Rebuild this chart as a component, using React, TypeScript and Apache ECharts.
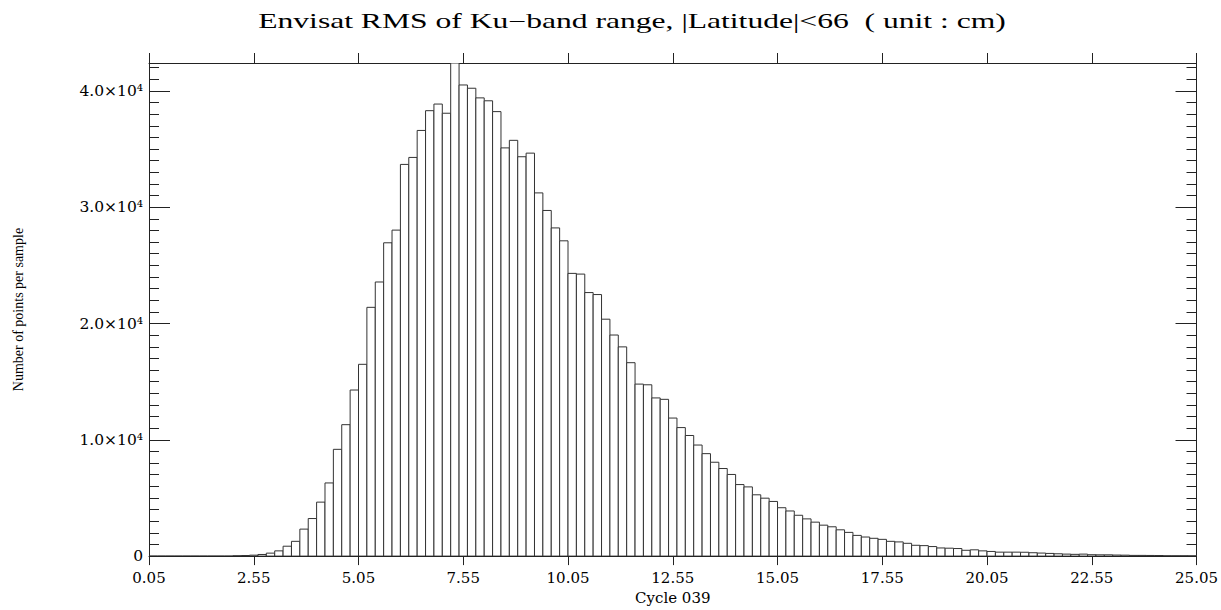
import React, { useEffect, useRef } from "react";
import * as echarts from "echarts";

// ---- data ----
const TITLE = "Envisat RMS of Ku\u2212band range, |Latitude|<66  ( unit : cm)";
const X_NAME = "Cycle 039";
const Y_NAME = "Number of points per sample";

const X_MIN = 0.05;
const X_MAX = 25.05;
const X_TICK_STEP = 2.5;
const BIN_WIDTH = 0.2;
const Y_MAX = 42400;

// counts per 0.2 cm bin, starting at 0.05
const counts: number[] = [
  0, 0, 0, 0, 0, 0, 0, 0, 0, 0,
  30, 50, 80, 140, 255, 450, 850, 1270, 2320, 3230,
  4640, 6290, 9180, 11300, 14280, 16490, 21390, 23570, 26940, 28030,
  33680, 34280, 36600, 38300, 38870, 38080, 42400, 40510, 40230, 39400,
  39150, 38220, 35100, 35750, 34340, 34650, 31230, 29720, 28220, 27110,
  24310, 24250, 22660, 22490, 20370, 19010, 17990, 16630, 14790, 14730,
  13600, 13480, 11870, 11050, 10370, 9550, 8810, 8070, 7530, 7020,
  6150, 5950, 5270, 4980, 4700, 4160, 3880, 3510, 3200, 2920,
  2660, 2520, 2260, 2040, 1780, 1640, 1530, 1440, 1270, 1220,
  1100, 930, 900, 820, 700, 680, 650, 500, 540, 450,
  400, 340, 340, 340, 330, 290, 260, 230, 200, 170,
  150, 170, 120, 110, 110, 90, 80, 60, 60, 55,
  50, 30, 30, 30, 25,
];

const binStarts: number[] = counts.map((_, i) => +(X_MIN + BIN_WIDTH * i).toFixed(2));

export default function App() {
  const ref = useRef<HTMLDivElement>(null);

  useEffect(() => {
    if (!ref.current) return;
    const chart = echarts.init(ref.current, undefined, { renderer: "svg" });
    const axisColor = "#222";
    const tickFont = "DejaVu Serif";

    const xBase = {
      type: "value",
      min: X_MIN,
      max: X_MAX,
      interval: X_TICK_STEP,
      axisLine: { show: true, onZero: false, lineStyle: { color: axisColor, width: 1 } },
      splitLine: { show: false },
    };
    const yBase = {
      type: "value",
      min: 0,
      max: Y_MAX,
      splitLine: { show: false },
    };

    chart.setOption({
      animation: false,
      backgroundColor: "#fff",
      grid: { left: 149, right: 24, top: 63, bottom: 48 },
      graphic: [
        {
          type: "text",
          x: 632,
          y: 21,
          scaleX: 1.58,
          style: {
            text: TITLE,
            fontFamily: "Liberation Serif",
            fontSize: 20,
            fill: "#000",
            align: "center",
            verticalAlign: "middle",
            textAlign: "center",
            textVerticalAlign: "middle",
          },
        },
      ],
      xAxis: [
        {
          ...xBase,
          position: "bottom",
          name: X_NAME,
          nameLocation: "middle",
          nameGap: 31,
          nameTextStyle: { fontFamily: tickFont, fontSize: 15, color: "#000" },
          axisTick: { show: true, inside: false, length: 9, lineStyle: { color: axisColor } },
          axisLabel: {
            show: true,
            margin: 14,
            fontFamily: tickFont,
            fontSize: 15,
            color: "#000",
            formatter: (v: number) => v.toFixed(2),
          },
        },
        {
          ...xBase,
          position: "top",
          axisTick: { show: true, inside: false, length: 10, lineStyle: { color: axisColor } },
          axisLabel: { show: false },
        },
      ],
      yAxis: [
        {
          ...yBase,
          position: "left",
          interval: 10000,
          name: Y_NAME,
          nameLocation: "middle",
          nameGap: 124,
          nameTextStyle: { fontFamily: "Liberation Serif", fontSize: 14, color: "#000" },
          axisLine: { show: true, lineStyle: { color: axisColor, width: 1 } },
          axisTick: { show: true, inside: true, length: 21, lineStyle: { color: axisColor } },
          axisLabel: {
            show: true,
            margin: 6,
            showMaxLabel: false,
            fontFamily: tickFont,
            fontSize: 15.5,
            color: "#000",
            padding: [0, 0, 4, 0],
            formatter: (v: number) => (v === 0 ? "0" : (v / 10000).toFixed(1) + "\u00d710\u2074"),
          },
        },
        {
          ...yBase,
          position: "right",
          interval: 10000,
          axisLine: { show: true, lineStyle: { color: axisColor, width: 1 } },
          axisTick: { show: true, inside: true, length: 21, lineStyle: { color: axisColor } },
          axisLabel: { show: false },
        },
        {
          ...yBase,
          position: "left",
          interval: 1000,
          axisLine: { show: false },
          axisTick: { show: true, inside: true, length: 10, lineStyle: { color: axisColor } },
          axisLabel: { show: false },
        },
        {
          ...yBase,
          position: "right",
          interval: 1000,
          axisLine: { show: false },
          axisTick: { show: true, inside: true, length: 10, lineStyle: { color: axisColor } },
          axisLabel: { show: false },
        },
      ],
      series: [
        {
          type: "custom",
          xAxisIndex: 0,
          yAxisIndex: 0,
          clip: true,
          data: binStarts.map((s, i) => [s, counts[i]]),
          renderItem: (params: any, api: any) => {
            const x0 = api.value(0);
            const v = api.value(1);
            const p0 = api.coord([x0, v]);
            const p1 = api.coord([x0 + BIN_WIDTH, 0]);
            return {
              type: "rect",
              shape: { x: p0[0], y: p0[1], width: p1[0] - p0[0], height: p1[1] - p0[1] },
              style: { fill: "#fff", stroke: "#333", lineWidth: 1 },
            };
          },
        },
      ],
    });

    return () => chart.dispose();
  }, []);

  return (
    <div
      ref={ref}
      style={{ position: "absolute", left: 0, top: 0, width: 1221, height: 610, background: "#fff" }}
    />
  );
}
